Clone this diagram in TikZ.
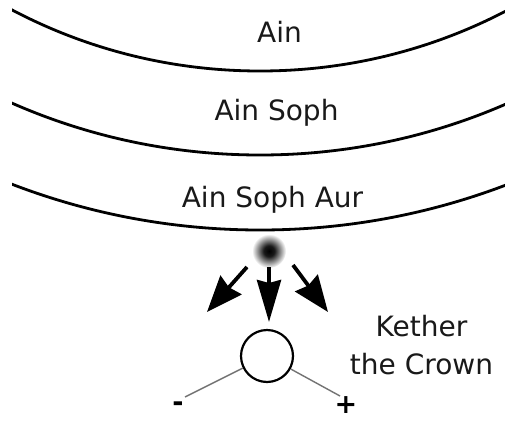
\documentclass[tikz,border=0pt]{standalone}
\usepackage{fontspec}
\setmainfont{DejaVu Sans}
\usetikzlibrary{arrows.meta}
\pgfdeclareradialshading{glow}{\pgfpoint{0bp}{0bp}}{%
  color(0bp)=(black); color(8bp)=(black!90); color(25bp)=(white); color(50bp)=(white)}
\begin{document}
\begin{tikzpicture}[x=1pt,y=-1pt,
  label/.style={anchor=base,inner sep=0pt,font=\fontsize{28}{38}\selectfont,text=black!90},
  veil/.style={line width=2.8pt,black},
  ray/.style={line width=3.8pt,-{Stealth[length=36pt,width=28pt,inset=3pt]}},
  longray/.style={line width=3.8pt,-{Stealth[length=42pt,width=24pt,inset=3pt]}},
  pole/.style={line width=1.4pt,black!55},
  sign/.style={inner sep=0pt,font=\fontsize{27}{30}\selectfont\bfseries}]
  \useasboundingbox (0,0) rectangle (505,420);
  \fill[white] (0,0) rectangle (505,420);

  % point of light below the veils
  \shade[shading=glow] (269,251) circle (17);

  % the three veils of negative existence, concentric arcs
  \begin{scope}
    \clip (12,-5) rectangle (506,260);
    \draw[veil] (260,-462) circle (533);
    \draw[veil] (260,-462) circle (617);
    \draw[veil] (260,-462) circle (692);
  \end{scope}

  \node[label] (ain) at (279.5,43) {Ain};
  \node[label] (ainsoph) at (276.5,120) {Ain Soph};
  \node[label] (ainsophaur) at (272.5,207) {Ain Soph Aur};

  % rays from the point
  \coordinate (l0) at (247,267);
  \coordinate (l1) at (207,312);
  \coordinate (m0) at (269,267);
  \coordinate (m1) at (269,322);
  \coordinate (r0) at (293,265);
  \coordinate (r1) at (328,312);
  \draw[ray] (l0) -- (l1);
  \draw[longray] (m0) -- (m1);
  \draw[ray] (r0) -- (r1);

  % Kether and its two poles
  \node[draw,circle,line width=2.2pt,minimum size=52pt,inner sep=0pt] (k) at (267,356) {};
  \coordinate (neg) at (185,397);
  \coordinate (pos) at (340,396);
  \draw[pole] (k) -- (neg);
  \draw[pole] (k) -- (pos);
  \node[sign] (minus) at (178,407) {-};
  \node[sign] (plus) at (346,405) {+};

  \node[label,align=center,anchor=north] (kether) at (421.5,315) {Kether\\the Crown};
\end{tikzpicture}
\end{document}
